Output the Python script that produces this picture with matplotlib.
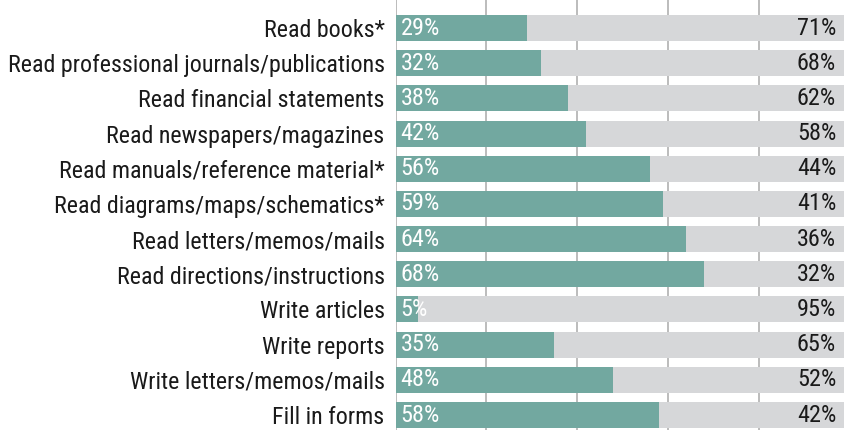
import matplotlib.pyplot as plt

labels = ['Read books*', 'Read professional journals/publications', 'Read financial statements',
          'Read newspapers/magazines', 'Read manuals/reference material*',
          'Read diagrams/maps/schematics*', 'Read letters/memos/mails',
          'Read directions/instructions', 'Write articles', 'Write reports',
          'Write letters/memos/mails', 'Fill in forms']
yes_pct = [29, 32, 38, 42, 56, 59, 64, 68, 5, 35, 48, 58]
no_pct = [71, 68, 62, 58, 44, 41, 36, 32, 95, 65, 52, 42]

teal = '#72a8a0'
grey = '#d6d7d9'

plt.rcParams['font.family'] = ['Roboto Condensed', 'Archivo Narrow', 'Liberation Sans', 'DejaVu Sans']

fig = plt.figure(figsize=(8.44, 4.30), dpi=100)
# axes run past the right edge, as in the reference the bars are clipped there
ax = fig.add_axes([395.7 / 844, 0, 453.5 / 844, 1])

y = range(len(labels))
ax.barh(y, yes_pct, height=0.74, color=teal, zorder=2)
ax.barh(y, no_pct, left=yes_pct, height=0.74, color=grey, zorder=2)

fs = 17.3
for i in y:
    ax.annotate(f'{yes_pct[i]}%', xy=(0, i), xytext=(5, 0), textcoords='offset pixels',
                ha='left', va='center', color='white', fontsize=17.5, zorder=3)
    ax.annotate(f'{no_pct[i]}%', xy=(100, i), xytext=(-13, 0), textcoords='offset pixels',
                ha='right', va='center', color='#1a1a1a', fontsize=17.5, zorder=3)

ax.set_xlim(0, 100)
ax.set_ylim(11.426, -0.796)
ax.set_yticks(list(y))
ax.set_yticklabels(labels, fontsize=fs, color='#1a1a1a')
ax.tick_params(axis='y', length=0, pad=8)
ax.set_xticks([0, 20, 40, 60, 80])
ax.tick_params(axis='x', length=0, labelbottom=False)
ax.grid(axis='x', color='#b0b0b0', linewidth=1.2, zorder=0)
ax.set_axisbelow(True)
for s in ax.spines.values():
    s.set_visible(False)

fig.savefig('out.png', dpi=100)
